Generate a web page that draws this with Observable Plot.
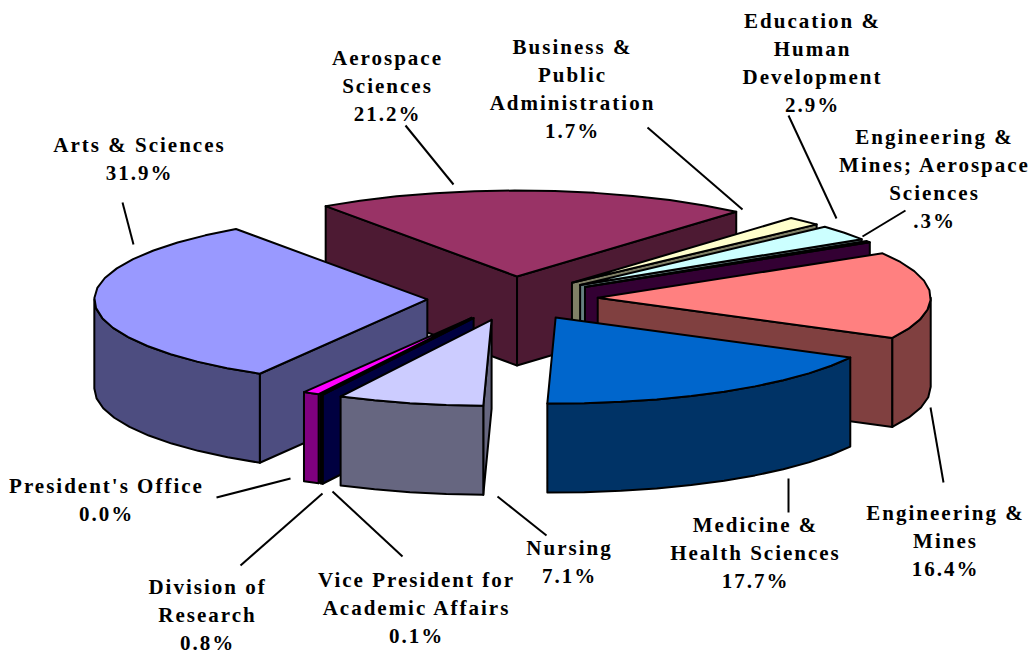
<!DOCTYPE html>
<html>
<head>
<meta charset="utf-8">
<script src="https://cdn.jsdelivr.net/npm/d3@7"></script>
<script src="https://cdn.jsdelivr.net/npm/@observablehq/plot@0.6"></script>
<style>html,body{margin:0;padding:0;background:#fff}</style>
</head>
<body>
<div id="chart"></div>
<script>
// Data (clockwise from the first slice)
const categories = ["Arts & Sciences","Aerospace\nSciences","Business &\nPublic\nAdministration","Education &\nHuman\nDevelopment","Engineering &\nMines; Aerospace\nSciences","Engineering &\nMines","Medicine &\nHealth Sciences","Nursing","Vice President for\nAcademic Affairs","Division of\nResearch","President's Office"];
const shares = [31.9,21.2,1.7,2.9,0.3,16.4,17.7,7.1,0.1,0.8,0.0];
const shareLabels = ["31.9%","21.2%","1.7%","2.9%",".3%","16.4%","17.7%","7.1%","0.1%","0.8%","0.0%"];
const sliceColors = ["#9999FF","#993366","#FFFFCC","#CCFFFF","#660066","#FF8080","#0066CC","#CCCCFF","#000080","#FF00FF","#FFFF00"];

// Pie layout: scale domains are unit-circle coordinates of the tilted pie
const firstAngle = 210.2, explode = 0.256, depth = 1.035, arcStep = 7;
const cx = 512, cy = 298, rx = 333, ry = 86;
// Manual label placement, pixels from the pie centre: [label dx, dy, leader near dx, dy, leader far dx, dy]
const labelLayout = [
  [-373,-141,-379,-54,-390,-96],
  [-125,-214,-59,-114,-107,-173],
  [60,-211,230,-89,135,-171],
  [300,-237,324,-80,276,-183],
  [422,-121,350,-62,393,-88],
  [433,241,418,109,431,184],
  [243,253,276,180,276,214],
  [57,262,-15,198,34,237],
  [-96,308,-180,193,-110,258],
  [-305,315,-190,195,-272,267],
  [-406,200,-222,180,-296,199]
];

const rad = d => d * Math.PI / 180;
const total = d3.sum(shares);
let acc = firstAngle;
const slices = shares.map((v, i) => {
  const a0 = acc, a1 = acc + v / total * 360; acc = a1;
  const mid = (a0 + a1) / 2;
  return {i, v, a0, a1, mid, tx: explode * Math.sin(rad(mid)), ty: explode * Math.cos(rad(mid))};
});
const halfColor = c => { const r = d3.rgb(c); return d3.rgb(r.r / 2, r.g / 2, r.b / 2).formatHex(); };
const arc = (s, a0, a1, drop = 0) => {
  const n = Math.max(1, Math.ceil((a1 - a0) / arcStep));
  return d3.range(n + 1).map(k => {
    const a = a0 + (a1 - a0) * k / n;
    return [s.tx + Math.sin(rad(a)), s.ty + Math.cos(rad(a)) - drop];
  });
};
const faces = [];
const addFace = (id, pts, fill) => pts.forEach(([x, y]) => faces.push({id, x, y, fill}));
slices.filter(s => s.v > 0).sort((p, q) => q.ty - p.ty).forEach(s => {
  const side = halfColor(sliceColors[s.i]);
  const wall = (a, tag) => {
    const [rimX, rimY] = arc(s, a, a)[0];
    addFace(s.i + tag, [[s.tx, s.ty], [rimX, rimY], [rimX, rimY - depth], [s.tx, s.ty - depth]], side);
  };
  if (Math.sin(rad(s.a0)) < 0) wall(s.a0, "start");
  if (Math.sin(rad(s.a1)) > 0) wall(s.a1, "end");
  [[90, 270], [450, 630]].forEach(([lo, hi], k) => {
    const a = Math.max(s.a0, lo), b = Math.min(s.a1, hi);
    if (b > a) addFace(s.i + "rim" + k, [...arc(s, a, b), ...arc(s, a, b, depth).reverse()], side);
  });
  addFace(s.i + "top", [[s.tx, s.ty], ...arc(s, s.a0, s.a1)], sliceColors[s.i]);
});

const labels = categories.map((name, i) => ({
  text: name + "\n" + shareLabels[i],
  x: labelLayout[i][0] / rx, y: -labelLayout[i][1] / ry
}));
const leaders = labelLayout.map(l => ({
  x1: l[2] / rx, y1: -l[3] / ry, x2: l[4] / rx, y2: -l[5] / ry
}));

const chart = Plot.plot({
  width: 1030, height: 653,
  margin: 0,
  x: {domain: [-1, 1], range: [cx - rx, cx + rx], axis: null},
  y: {domain: [-1, 1], range: [cy + ry, cy - ry], axis: null},
  style: {fontFamily: "'Liberation Serif', serif", letterSpacing: "2px", background: "#fff", color: "#000"},
  marks: [
    Plot.line(faces, {x: "x", y: "y", z: "id", fill: "fill", stroke: "#000", strokeWidth: 2, curve: "linear-closed"}),
    Plot.link(leaders, {x1: "x1", y1: "y1", x2: "x2", y2: "y2", stroke: "#000", strokeWidth: 2}),
    Plot.text(labels, {x: "x", y: "y", text: "text", fontSize: 21, fontWeight: "bold", lineHeight: 1.333, fill: "#000", textAnchor: "middle"})
  ]
});
document.getElementById("chart").appendChild(chart);
</script>
</body>
</html>
